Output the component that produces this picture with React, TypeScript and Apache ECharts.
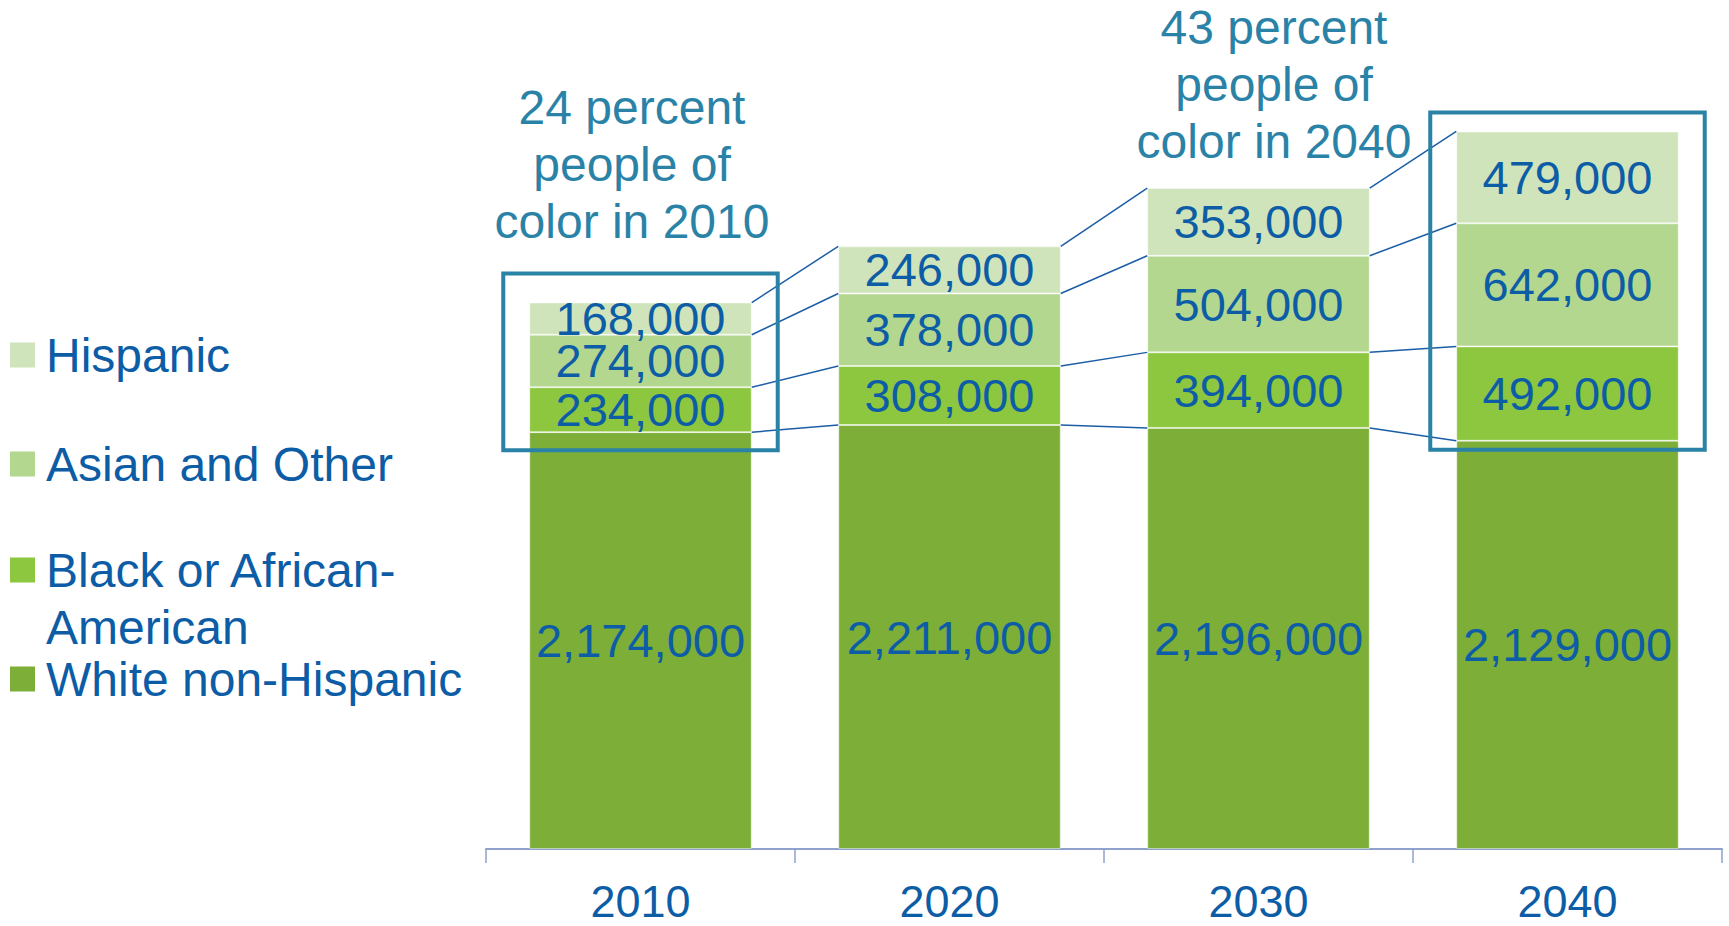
import React, { useEffect, useRef } from 'react';
import * as echarts from 'echarts';

const years = ['2010', '2020', '2030', '2040'];
const whiteNonHispanic = [2174000, 2211000, 2196000, 2129000];
const blackAfricanAmerican = [234000, 308000, 394000, 492000];
const asianOther = [274000, 378000, 504000, 642000];
const hispanic = [168000, 246000, 353000, 479000];
const seriesNames = ['White non-Hispanic', 'Black or African-American', 'Asian and Other', 'Hispanic'];
const legendLabels = ['Hispanic', 'Asian and Other', 'Black or African-\nAmerican', 'White non-Hispanic'];
const annotationTexts = ['24 percent\npeople of\ncolor in 2010', '43 percent\npeople of\ncolor in 2040'];
const highlightedYears = ['2010', '2040'];

const COLORS = ['#7DAE37', '#8DC63F', '#B3D78F', '#CFE4BB'];
const BLUE = '#0C5DA6';
const TEAL = '#2A83A6';
const FONT = '"Liberation Sans", Arial, sans-serif';
const BAR_RATIO = 0.72;
const BOX_PAD_TOP = [29, 19];
const BOX_PAD_BOTTOM = [18, 9];

export default function App() {
  const ref = useRef<HTMLDivElement>(null);
  useEffect(() => {
    if (!ref.current) return;
    const chart = echarts.init(ref.current, null, { renderer: 'svg' });
    const stacks = [whiteNonHispanic, blackAfricanAmerican, asianOther, hispanic];
    const cumulative = years.map((_, i) => {
      let s = 0;
      return stacks.map((a) => (s += a[i]));
    });

    const barSeries = stacks.map((arr, k) => ({
      name: seriesNames[k],
      type: 'bar',
      stack: 'total',
      data: arr,
      barCategoryGap: '28%',
      itemStyle: { color: COLORS[k], borderColor: 'rgba(255,255,255,0.45)', borderWidth: 1 },
      label: {
        show: true,
        position: 'inside',
        color: BLUE,
        fontSize: 47,
        lineHeight: 36,
        fontFamily: FONT,
        formatter: (p: any) => Number(p.value).toLocaleString('en-US'),
      },
      labelLayout: { hideOverlap: false },
      z: 2,
    }));

    const connectorSeries = {
      type: 'custom',
      coordinateSystem: 'cartesian2d',
      clip: false,
      z: 4,
      silent: true,
      data: years.slice(0, -1).map((_, i) => [i, 0]),
      encode: { x: 0, y: 1 },
      renderItem: (params: any, api: any) => {
        const i = params.dataIndex;
        const band = api.size([1, 0])[0];
        const hw = (band * BAR_RATIO) / 2;
        const children = cumulative[i].map((level, k) => {
          const p1 = api.coord([i, level]);
          const p2 = api.coord([i + 1, cumulative[i + 1][k]]);
          return {
            type: 'line',
            shape: { x1: p1[0] + hw, y1: p1[1], x2: p2[0] - hw, y2: p2[1] },
            style: { stroke: '#1B5EA6', lineWidth: 1.5 },
          };
        });
        return { type: 'group', children };
      },
    };

    const boxSeries = {
      type: 'custom',
      coordinateSystem: 'cartesian2d',
      clip: false,
      z: 5,
      silent: true,
      data: highlightedYears.map((y) => [years.indexOf(y), 0]),
      encode: { x: 0, y: 1 },
      renderItem: (params: any, api: any) => {
        const j = params.dataIndex;
        const i = years.indexOf(highlightedYears[j]);
        const band = api.size([1, 0])[0];
        const hw = (band * BAR_RATIO) / 2;
        const top = api.coord([i, cumulative[i][3]]);
        const base = api.coord([i, cumulative[i][0]]);
        const padX = 26;
        const y1 = top[1] - BOX_PAD_TOP[j];
        const y2 = base[1] + BOX_PAD_BOTTOM[j];
        return {
          type: 'rect',
          shape: { x: top[0] - hw - padX, y: y1, width: 2 * (hw + padX), height: y2 - y1 },
          style: { fill: 'none', stroke: TEAL, lineWidth: 4 },
        };
      },
    };

    const legendY = [355, 464, 570, 679];
    const legendColorIdx = [3, 2, 1, 0];
    const graphic: any[] = [];
    legendLabels.forEach((lbl, j) => {
      graphic.push({
        type: 'rect',
        shape: { x: 10, y: legendY[j] - 12.5, width: 25, height: 25 },
        style: { fill: COLORS[legendColorIdx[j]] },
      });
      graphic.push({
        type: 'text',
        x: 46,
        y: legendY[j] - 28.5,
        style: {
          text: lbl,
          fill: BLUE,
          fontSize: 48,
          fontFamily: FONT,
          lineHeight: 57,
          verticalAlign: 'top',
          align: 'left',
        },
      });
    });
    const annX = [632, 1274];
    const annY = [107, 27];
    annotationTexts.forEach((t, j) => {
      graphic.push({
        type: 'text',
        x: annX[j],
        y: annY[j] - 28.5,
        z: 10,
        style: {
          text: t,
          fill: TEAL,
          fontSize: 48,
          fontFamily: FONT,
          lineHeight: 57,
          align: 'center',
          verticalAlign: 'top',
        },
      });
    });

    chart.setOption({
      animation: false,
      backgroundColor: '#ffffff',
      grid: { left: 486, right: 7, top: 82, bottom: 77, containLabel: false },
      xAxis: {
        type: 'category',
        data: years,
        axisLine: { show: true, lineStyle: { color: '#8FA2CC', width: 2 } },
        axisTick: { show: true, length: 14, lineStyle: { color: '#8FA2CC', width: 1.5 } },
        axisLabel: { color: BLUE, fontSize: 45, lineHeight: 36, fontFamily: FONT, margin: 34 },
      },
      yAxis: {
        type: 'value',
        min: 0,
        max: 4000000,
        show: false,
        splitLine: { show: false },
      },
      series: [...barSeries, connectorSeries, boxSeries],
      graphic,
    });
    return () => chart.dispose();
  }, []);
  return (
    <div
      ref={ref}
      style={{ position: 'fixed', left: 0, top: 0, width: 1729, height: 926 }}
    />
  );
}
